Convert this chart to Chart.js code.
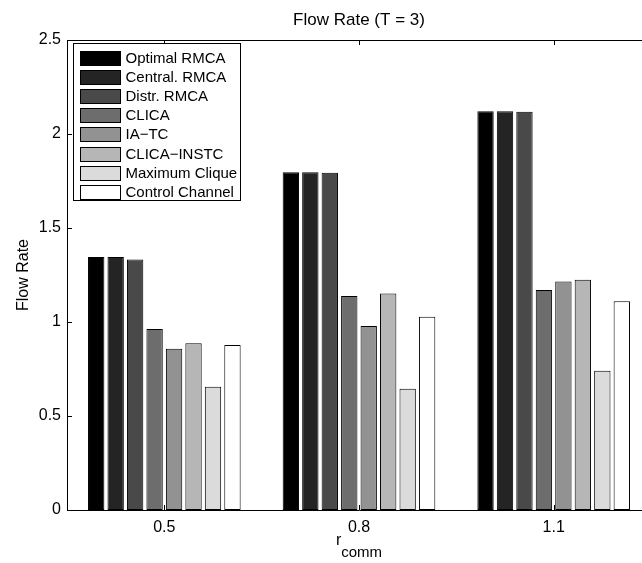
<!DOCTYPE html>
<html>
<head>
<meta charset="utf-8">
<title>Flow Rate (T = 3)</title>
<script src="https://cdn.jsdelivr.net/npm/chart.js@4.4.1/dist/chart.umd.min.js"></script>
<style>
  html, body { margin: 0; padding: 0; background: #fff; overflow: hidden; }
  #wrap { width: 642px; height: 563px; overflow: hidden; }
  canvas { display: block; }
</style>
</head>
<body>
<div id="wrap"><canvas id="flowChart" width="660" height="563"></canvas></div>
<script>
// r_comm values on the x axis
const categories = ['0.5', '0.8', '1.1'];

// Flow rate per scheme
const optimalRmca   = [1.346, 1.796, 2.121];
const centralRmca   = [1.346, 1.796, 2.121];
const distrRmca     = [1.332, 1.794, 2.119];
const clica         = [0.963, 1.138, 1.170];
const iaTc          = [0.858, 0.979, 1.216];
const clicaInstc    = [0.887, 1.151, 1.225];
const maximumClique = [0.656, 0.645, 0.741];
const controlChan   = [0.878, 1.028, 1.110];

const seriesNames = ['Optimal RMCA', 'Central. RMCA', 'Distr. RMCA', 'CLICA',
  'IA\u2212TC', 'CLICA\u2212INSTC', 'Maximum Clique', 'Control Channel'];
const seriesValues = [optimalRmca, centralRmca, distrRmca, clica, iaTc,
  clicaInstc, maximumClique, controlChan];

// gray(8) colormap, black to white
const grays = ['#000000', '#242424', '#494949', '#6d6d6d', '#929292', '#b6b6b6', '#dbdbdb', '#ffffff'];

const yTicks = [0, 0.5, 1, 1.5, 2, 2.5];

const FONT = '"Liberation Sans", Arial, Helvetica, sans-serif';

/**
 * Box line on top, inward tick marks on all sides (MATLAB style)
 */
const axesFrame = {
  id: 'axesFrame',
  afterDatasetsDraw(chart) {
    const { ctx, chartArea: a, scales: { x, y } } = chart;
    ctx.save();
    ctx.strokeStyle = '#000';
    ctx.lineWidth = 1;
    ctx.beginPath();
    ctx.moveTo(a.left, a.top + 0.5);
    ctx.lineTo(a.right, a.top + 0.5);
    ctx.moveTo(a.right - 0.5, a.top);
    ctx.lineTo(a.right - 0.5, a.bottom);
    x.ticks.forEach((t, i) => {
      const px = Math.round(x.getPixelForTick(i)) + 0.5;
      ctx.moveTo(px, a.top);
      ctx.lineTo(px, a.top + 5);
      ctx.moveTo(px, a.bottom);
      ctx.lineTo(px, a.bottom - 5);
    });
    y.ticks.forEach((t, i) => {
      const py = Math.round(y.getPixelForTick(i)) + 0.5;
      ctx.moveTo(a.left, py);
      ctx.lineTo(a.left + 5, py);
      ctx.moveTo(a.right, py);
      ctx.lineTo(a.right - 5, py);
    });
    ctx.stroke();
    ctx.restore();
  }
};

/**
 * x label r_comm with a subscript, centred under the plot
 */
const xLabel = {
  id: 'xLabel',
  afterDraw(chart) {
    const { ctx, chartArea: a } = chart;
    ctx.save();
    ctx.fillStyle = '#000';
    ctx.textBaseline = 'alphabetic';
    ctx.font = '16px ' + FONT;
    const wr = ctx.measureText('r').width;
    ctx.font = '15px ' + FONT;
    const ws = ctx.measureText('comm').width;
    const cx = (a.left + a.right) / 2;
    const x0 = cx - (wr + ws) / 2;
    ctx.font = '16px ' + FONT;
    ctx.fillText('r', x0, a.bottom + 35);
    ctx.font = '15px ' + FONT;
    ctx.fillText('comm', x0 + wr, a.bottom + 47);
    ctx.restore();
  }
};

/**
 * Boxed legend in the top-left corner of the axes
 */
const boxLegend = {
  id: 'boxLegend',
  afterDraw(chart) {
    const { ctx, chartArea: a } = chart;
    const left = a.left + 6.5;
    const top = a.top + 3.5;
    const w = 167;
    const h = 157;
    const pitch = 19.2;
    ctx.save();
    ctx.fillStyle = '#fff';
    ctx.fillRect(left, top, w, h);
    ctx.strokeStyle = '#000';
    ctx.lineWidth = 1;
    ctx.strokeRect(left, top, w, h);
    ctx.font = '15px ' + FONT;
    ctx.textBaseline = 'middle';
    chart.data.datasets.forEach((ds, i) => {
      const sy = Math.round(a.top + 10.5 + i * pitch) + 0.5;
      ctx.fillStyle = ds.backgroundColor;
      ctx.fillRect(left + 7, sy, 40, 14);
      ctx.strokeStyle = '#000';
      ctx.strokeRect(left + 7, sy, 40, 14);
      ctx.fillStyle = '#000';
      ctx.fillText(ds.label, left + 52, sy + 7.5);
    });
    ctx.restore();
  }
};

function buildDatasets() {
  return seriesValues.map((vals, i) => ({
    label: seriesNames[i],
    data: vals,
    backgroundColor: grays[i],
    borderColor: '#000',
    borderWidth: 1,
    borderSkipped: false,
    categoryPercentage: 0.8,
    barPercentage: 0.84
  }));
}

function renderFlowChart() {
  const ctx = document.getElementById('flowChart').getContext('2d');
  new Chart(ctx, {
    type: 'bar',
    data: {
      labels: categories,
      datasets: buildDatasets()
    },
    options: {
      responsive: false,
      animation: false,
      devicePixelRatio: 1,
      layout: { padding: { left: 0, right: 9, top: 0, bottom: 0 } },
      plugins: {
        legend: { display: false },
        tooltip: { enabled: false },
        title: {
          display: true,
          text: 'Flow Rate (T = 3)',
          fullSize: false,
          color: '#000',
          font: { family: FONT, size: 17, weight: 'normal', lineHeight: 1.2 },
          padding: { top: 10, bottom: 9.6 }
        }
      },
      scales: {
        x: {
          offset: true,
          grid: { display: false, drawTicks: false },
          border: { display: true, color: '#000', width: 1 },
          ticks: {
            color: '#000',
            padding: 8,
            font: { family: FONT, size: 16 }
          },
          afterFit(scale) { scale.height = 53; }
        },
        y: {
          min: 0,
          max: 2.5,
          afterBuildTicks(scale) { scale.ticks = yTicks.map(v => ({ value: v })); },
          grid: { display: false, drawTicks: false },
          border: { display: true, color: '#000', width: 1 },
          ticks: {
            color: '#000',
            padding: 6,
            font: { family: FONT, size: 16 },
            callback: (value) => String(value)
          },
          title: {
            display: true,
            text: 'Flow Rate',
            color: '#000',
            font: { family: FONT, size: 16 },
            padding: { top: 14, bottom: 0 }
          },
          afterFit(scale) { scale.width = 67; }
        }
      }
    },
    plugins: [axesFrame, xLabel, boxLegend]
  });
}

renderFlowChart();
</script>
</body>
</html>
